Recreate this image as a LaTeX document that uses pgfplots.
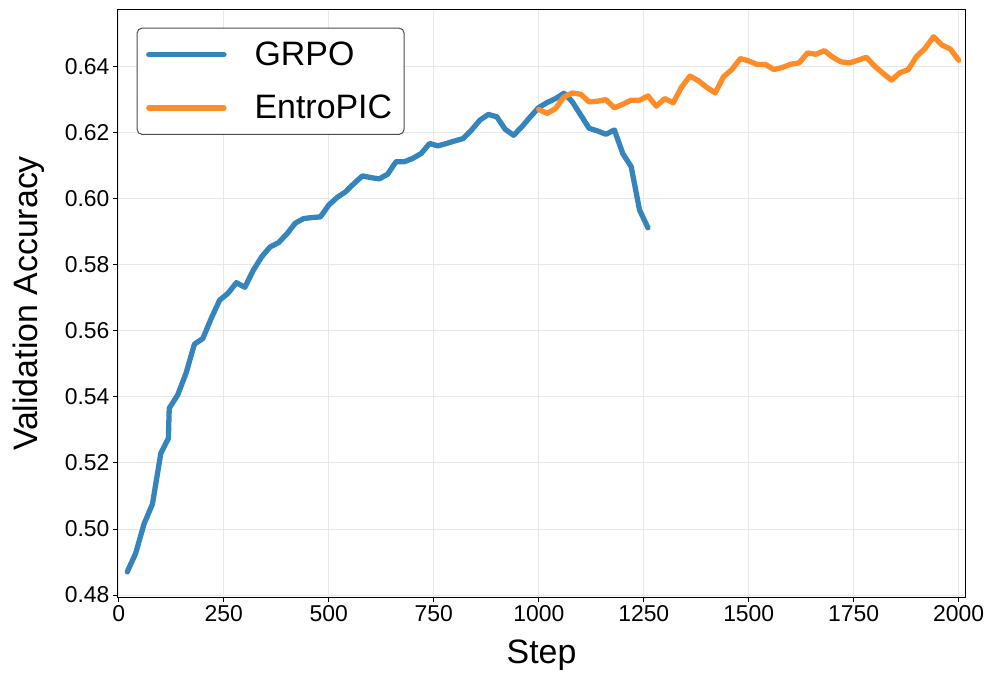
\documentclass[border=0pt]{standalone}
\usepackage{fontspec}
\setmainfont{Liberation Sans}
\usepackage{pgfplots}
\pgfplotsset{compat=1.18}
\definecolor{cblue}{HTML}{3585BC}
\definecolor{corange}{HTML}{FF8C26}

\pgfplotstableread{
step acc
20 0.4870
40 0.4926
60 0.5015
80 0.5075
100 0.5229
118 0.5274
120 0.5365
140 0.5405
160 0.5471
180 0.5559
200 0.5576
220 0.5637
240 0.5692
260 0.5713
280 0.5745
300 0.5731
320 0.5782
340 0.5823
360 0.5853
380 0.5866
400 0.5892
420 0.5925
440 0.5939
460 0.5942
480 0.5944
500 0.5980
520 0.6003
540 0.6020
560 0.6045
580 0.6068
600 0.6063
620 0.6059
640 0.6073
660 0.6111
680 0.6111
700 0.6121
720 0.6136
740 0.6166
760 0.6159
780 0.6166
800 0.6174
820 0.6181
840 0.6207
860 0.6237
880 0.6254
900 0.6247
920 0.6209
940 0.6191
960 0.6217
980 0.6247
1000 0.6275
1020 0.6290
1040 0.6302
1060 0.6318
1080 0.6292
1100 0.6252
1120 0.6212
1140 0.6204
1160 0.6194
1180 0.6207
1200 0.6136
1220 0.6096
1240 0.5965
1260 0.5911
}\grpo

\pgfplotstableread{
step acc
1000 0.6269
1020 0.6257
1040 0.6272
1060 0.6307
1080 0.6319
1100 0.6315
1120 0.6292
1140 0.6294
1160 0.6299
1180 0.6274
1200 0.6285
1220 0.6297
1240 0.6297
1260 0.6310
1280 0.6279
1300 0.6302
1320 0.6289
1340 0.6337
1360 0.6370
1380 0.6356
1400 0.6336
1420 0.6319
1440 0.6368
1460 0.6390
1480 0.6423
1500 0.6416
1520 0.6405
1540 0.6405
1560 0.6390
1580 0.6396
1600 0.6406
1620 0.6410
1640 0.6440
1660 0.6436
1680 0.6447
1700 0.6427
1720 0.6413
1740 0.6410
1760 0.6418
1780 0.6427
1800 0.6400
1820 0.6378
1840 0.6358
1860 0.6380
1880 0.6390
1900 0.6430
1920 0.6454
1940 0.6489
1960 0.6464
1980 0.6452
2000 0.6418
}\entropic

\begin{document}
\begin{tikzpicture}
\begin{axis}[
  name=ax,
  scale only axis,
  width=847bp, height=587bp,
  xmin=-2, xmax=2015,
  ymin=0.4794, ymax=0.6570,
  xtick={0,250,500,750,1000,1250,1500,1750,2000},
  ytick={0.48,0.50,0.52,0.54,0.56,0.58,0.60,0.62,0.64},
  /pgf/number format/assume math mode=true,
  /pgf/number format/1000 sep={},
  y tick label style={/pgf/number format/.cd, fixed, fixed zerofill, precision=2},
  tick label style={font=\fontsize{23}{27}\selectfont},
  tick align=outside,
  tick pos=left,
  major tick length=5bp,
  tick style={black, line width=0.8bp},
  axis line style={black, line width=1bp},
  grid=major,
  grid style={black!9, line width=0.7bp},
  xlabel={Step},
  ylabel={Validation Accuracy},
  label style={font=\fontsize{34}{40}\selectfont},
  xlabel style={at={(axis description cs:0.5,0)}, anchor=north, yshift=-39bp},
  ylabel style={at={(axis description cs:-0.0826,0.5)}, anchor=south},
  legend cell align=left,
  legend style={at={(axis description cs:0.022,0.970)}, anchor=north west,
    draw=black!70, rounded corners=5bp, line width=1bp,
    font=\fontsize{34}{40}\selectfont,
    inner xsep=9bp, inner ysep=11bp, row sep=22bp,
    nodes={inner sep=3bp},
    /tikz/column 1/.style={column sep=25bp}},
  legend image code/.code={\draw[#1, line width=5.5bp] (0bp,0bp) -- (75bp,0bp);},
  every axis plot/.append style={line width=5.3bp, line join=round, line cap=round},
]
\addplot[cblue, no marks] table[x=step, y=acc] {\grpo};
\addlegendentry{GRPO}
\addplot[corange, no marks] table[x=step, y=acc] {\entropic};
\addlegendentry{EntroPIC}
\end{axis}
\pgfresetboundingbox
\path ([shift={(-118bp,-84bp)}]ax.south west) rectangle ([shift={(32bp,10bp)}]ax.north east);
\end{tikzpicture}
\end{document}
